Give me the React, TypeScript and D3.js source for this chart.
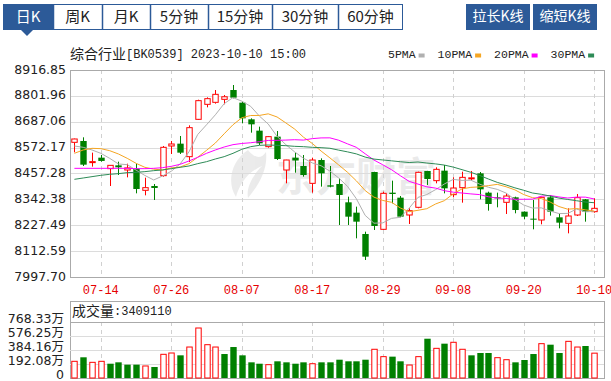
import React from "react";
import * as d3 from "d3";

// 综合行业 BK0539 daily candles, 2023-07-11 .. 2023-10-10
const dates = [
  "07-11", "07-12", "07-13", "07-14", "07-17", "07-18", "07-19", "07-20", "07-21", "07-24",
  "07-25", "07-26", "07-27", "07-28", "07-31", "08-01", "08-02", "08-03", "08-04", "08-07",
  "08-08", "08-09", "08-10", "08-11", "08-14", "08-15", "08-16", "08-17", "08-18", "08-21",
  "08-22", "08-23", "08-24", "08-25", "08-28", "08-29", "08-30", "08-31", "09-01", "09-04",
  "09-05", "09-06", "09-07", "09-08", "09-11", "09-12", "09-13", "09-14", "09-15", "09-18",
  "09-19", "09-20", "09-21", "09-22", "09-25", "09-26", "09-27", "09-28", "10-09", "10-10",
];
const opens = [
  8595.7, 8601.6, 8507.0, 8527.6, 8478.8, 8493.5, 8472.8, 8478.8, 8382.6, 8401.8,
  8447.7, 8579.4, 8589.8, 8532.0, 8697.8, 8764.4, 8773.3, 8786.6, 8828.0, 8771.8,
  8697.8, 8647.5, 8576.5, 8620.9, 8472.8, 8527.6, 8490.6, 8413.6, 8517.2, 8404.8,
  8410.7, 8329.3, 8283.4, 8188.7, 8463.9, 8209.4, 8372.2, 8350.0, 8273.0, 8307.1,
  8468.4, 8425.5, 8469.9, 8363.3, 8394.4, 8434.0, 8458.0, 8372.2, 8351.5, 8329.3,
  8351.5, 8287.8, 8256.7, 8250.8, 8351.5, 8262.7, 8236.0, 8273.0, 8342.6, 8287.8,
];
const highs = [
  8612.0, 8617.9, 8549.8, 8539.4, 8495.0, 8509.8, 8500.9, 8499.5, 8438.8, 8410.7,
  8579.4, 8601.6, 8623.8, 8671.2, 8785.0, 8795.5, 8828.0, 8805.8, 8850.2, 8776.3,
  8702.2, 8665.2, 8623.8, 8646.0, 8518.0, 8549.8, 8539.4, 8527.6, 8524.6, 8490.6,
  8435.8, 8354.4, 8310.1, 8199.0, 8465.0, 8376.6, 8425.5, 8357.4, 8302.7, 8465.4,
  8469.0, 8484.7, 8495.0, 8440.2, 8465.4, 8468.4, 8463.9, 8376.6, 8372.2, 8369.2,
  8354.4, 8289.0, 8339.6, 8354.4, 8361.8, 8277.5, 8302.7, 8366.3, 8344.1, 8347.0,
];
const lows = [
  8551.3, 8490.6, 8487.6, 8509.8, 8401.8, 8450.6, 8440.2, 8369.2, 8360.3, 8339.6,
  8443.2, 8543.9, 8543.9, 8508.3, 8694.8, 8751.1, 8767.4, 8764.4, 8791.0, 8680.0,
  8638.6, 8583.8, 8572.0, 8517.2, 8413.6, 8461.0, 8443.2, 8372.2, 8398.9, 8395.9,
  8228.6, 8228.6, 8169.4, 8073.2, 8206.4, 8206.4, 8324.8, 8262.7, 8233.1, 8302.7,
  8406.3, 8413.6, 8369.2, 8351.5, 8327.8, 8428.4, 8342.6, 8292.3, 8307.1, 8277.5,
  8280.5, 8253.8, 8209.4, 8231.6, 8270.1, 8213.8, 8191.6, 8268.6, 8243.4, 8283.4,
];
const closes = [
  8610.5, 8496.5, 8510.0, 8513.0, 8493.5, 8484.7, 8482.0, 8388.5, 8394.4, 8393.0,
  8573.5, 8588.3, 8549.8, 8660.8, 8780.7, 8789.6, 8808.8, 8798.0, 8794.0, 8702.2,
  8675.6, 8591.2, 8620.9, 8521.7, 8517.2, 8515.0, 8450.6, 8517.2, 8458.0, 8398.9,
  8361.8, 8265.6, 8243.4, 8088.0, 8224.2, 8369.2, 8366.3, 8265.6, 8292.3, 8462.5,
  8432.8, 8475.8, 8391.4, 8392.9, 8440.2, 8438.0, 8387.0, 8321.9, 8347.0, 8357.4,
  8295.2, 8265.6, 8253.8, 8351.5, 8287.8, 8239.0, 8268.6, 8350.0, 8287.8, 8302.7,
];
const ma5 = [
  8579.4, 8573.5, 8561.7, 8546.9, 8524.7, 8499.5, 8496.6, 8472.3, 8448.6, 8428.5,
  8446.3, 8467.5, 8499.8, 8553.1, 8630.6, 8673.8, 8717.9, 8767.6, 8794.2, 8778.5,
  8755.7, 8712.2, 8676.8, 8622.3, 8585.3, 8553.2, 8525.1, 8504.3, 8491.6, 8467.9,
  8437.3, 8400.3, 8345.5, 8271.5, 8236.6, 8238.1, 8258.2, 8262.7, 8303.5, 8351.2,
  8363.9, 8385.8, 8411.0, 8431.1, 8426.6, 8427.7, 8409.9, 8396.0, 8386.8, 8370.3,
  8341.7, 8317.4, 8303.8, 8304.7, 8290.8, 8279.5, 8280.1, 8299.4, 8286.6, 8289.6,
];
const ma10 = [
  8546.9, 8561.7, 8569.0, 8567.6, 8558.7, 8543.9, 8524.6, 8502.5, 8484.7, 8476.6,
  8472.9, 8482.1, 8486.1, 8500.9, 8529.6, 8560.1, 8592.7, 8633.7, 8673.7, 8704.6,
  8714.8, 8715.1, 8722.2, 8708.3, 8681.9, 8654.5, 8618.6, 8590.6, 8557.0, 8526.6,
  8495.3, 8462.7, 8424.9, 8381.6, 8352.3, 8337.7, 8329.3, 8304.1, 8287.5, 8293.9,
  8301.0, 8322.0, 8336.8, 8367.3, 8388.9, 8395.8, 8397.9, 8403.5, 8409.0, 8398.4,
  8384.7, 8363.7, 8349.9, 8345.8, 8330.5, 8310.6, 8298.8, 8301.6, 8295.7, 8290.2,
];
const ma20 = [
  8480.2, 8480.2, 8480.2, 8480.2, 8480.2, 8480.2, 8480.2, 8478.8, 8478.8, 8480.2,
  8483.2, 8489.1, 8498.0, 8512.8, 8529.1, 8546.9, 8561.7, 8575.0, 8585.3, 8590.6,
  8593.8, 8598.6, 8604.1, 8604.6, 8605.7, 8607.3, 8605.7, 8612.1, 8615.3, 8615.6,
  8605.0, 8588.9, 8573.6, 8544.9, 8517.1, 8496.1, 8474.0, 8447.3, 8422.2, 8410.3,
  8398.1, 8392.4, 8380.9, 8374.4, 8370.6, 8366.7, 8363.6, 8353.8, 8348.2, 8346.2,
  8342.8, 8342.8, 8343.4, 8356.5, 8359.7, 8353.2, 8348.3, 8352.5, 8352.3, 8344.3,
];
const ma30 = [
  8431.4, 8437.3, 8443.3, 8449.2, 8453.6, 8456.6, 8461.0, 8462.5, 8465.5, 8469.9,
  8472.9, 8478.8, 8484.7, 8490.6, 8501.0, 8509.8, 8521.7, 8532.0, 8546.9, 8564.6,
  8576.4, 8582.4, 8583.8, 8582.4, 8580.9, 8577.9, 8576.4, 8573.5, 8572.0, 8569.3,
  8561.0, 8553.3, 8544.4, 8530.2, 8521.3, 8517.4, 8513.5, 8509.5, 8506.0, 8508.4,
  8503.7, 8499.9, 8494.6, 8485.7, 8474.4, 8462.6, 8448.6, 8432.7, 8417.8, 8406.3,
  8393.6, 8382.8, 8370.6, 8364.9, 8357.2, 8348.0, 8342.0, 8336.4, 8330.7, 8327.5,
];
// volume in 万
const volumes = [
  229, 284, 215, 229, 196, 215, 183, 183, 165, 151,
  325, 343, 311, 425, 686, 457, 425, 329, 425, 311,
  215, 196, 183, 229, 215, 196, 215, 196, 215, 215,
  251, 229, 229, 251, 394, 293, 293, 229, 178, 293,
  539, 407, 471, 490, 394, 311, 343, 343, 279, 251,
  215, 247, 329, 471, 457, 343, 503, 425, 439, 340.911,
];
const priceTicks = [8916.85, 8801.96, 8687.06, 8572.17, 8457.28, 8342.38, 8227.49, 8112.59, 7997.7];
const volTicks = [768.33, 576.25, 384.16, 192.08, 0];
const xTicks = ["07-14", "07-26", "08-07", "08-17", "08-29", "09-08", "09-20", "10-10"];
const tabs = ["日K", "周K", "月K", "5分钟", "15分钟", "30分钟", "60分钟"];
const maNames = ["5PMA", "10PMA", "20PMA", "30PMA"];

const BLUE = "#2c5a98";
const RED = "#ff0000";
const GREEN = "#008000";
const maColors = ["#b0b0b0", "#f5a623", "#ff00ff", "#2e8b57"];
const CJK = "Noto Sans CJK SC";
const MONO = "Liberation Mono";
const NUM = "DejaVu Sans";

export default function App() {
  const left = 70, right = 604;
  const pTop = 70, pBot = 277;
  const vPanel = 301, vTop = 322, vBot = 378;

  const x = d3.scaleBand<string>().domain(dates).range([left, 598.6]);
  const bw = x.bandwidth();
  const cx = (d: string) => (x(d) as number) + bw / 2;
  const y = d3.scaleLinear().domain([priceTicks[8], priceTicks[0]]).range([pBot, pTop]);
  const yv = d3.scaleLinear().domain([0, volTicks[0]]).range([vBot, vTop]);

  const tabEdges = [3, 53, 102, 150, 208, 272, 338, 403];
  const line = d3
    .line<number>()
    .x((_, i) => cx(dates[i]))
    .y((v) => y(v));
  const mas = [ma5, ma10, ma20, ma30];

  // legend layout
  let lx = 388;
  const legend = maNames.map((n, i) => {
    const tx = lx;
    const sq = tx + n.length * 6.9 + 3;
    lx = sq + 6 + 13;
    return { n, tx, sq, c: maColors[i] };
  });

  const hw = 2.7;

  return (
    <svg
      width={611}
      height={381}
      style={{ position: "absolute", left: 0, top: 0, background: "#fff" }}
    >
      {/* tabs */}
      <rect x={3.5} y={4.5} width={399} height={25} fill="#fff" stroke={BLUE} />
      {tabs.map((t, i) => {
        const x0 = tabEdges[i], x1 = tabEdges[i + 1];
        return (
          <g key={t}>
            {i === 0 && <rect x={x0 + 0.5} y={4.5} width={x1 - x0} height={25} fill={BLUE} />}
            {i > 0 && <line x1={x0 + 0.5} x2={x0 + 0.5} y1={4} y2={30} stroke={BLUE} strokeWidth={1.5} />}
            <text
              x={(x0 + x1) / 2}
              y={17.5}
              textAnchor="middle"
              dominantBaseline="middle"
              fontFamily={CJK}
              fontSize={15}
              fill={i === 0 ? "#fff" : "#222"}
            >
              {t}
            </text>
          </g>
        );
      })}
      <path d="M21,30 L33,30 L27,36 Z" fill={BLUE} />
      {["拉长K线", "缩短K线"].map((t, i) => (
        <g key={t}>
          <rect x={466 + i * 67} y={4} width={64} height={26} fill={BLUE} />
          <text
            x={498 + i * 67}
            y={17.5}
            textAnchor="middle"
            dominantBaseline="middle"
            fontFamily={CJK}
            fontSize={14}
            fill="#fff"
          >
            {t}
          </text>
        </g>
      ))}

      {/* header */}
      <text x={70} y={55} dominantBaseline="middle" fill="#222">
        <tspan fontFamily={CJK} fontSize={14}>综合行业</tspan>
        <tspan fontFamily={MONO} fontSize={12}>[BK0539] 2023-10-10 15:00</tspan>
      </text>
      {legend.map((l) => (
        <g key={l.n}>
          <text x={l.tx} y={55} dominantBaseline="middle" fontFamily={MONO} fontSize={11.5} fill="#222">
            {l.n}
          </text>
          <rect x={l.sq} y={53.5} width={6} height={4} fill={l.c} />
        </g>
      ))}

      {/* watermark */}
      <g opacity={0.08} fill="#000">
        <path d="M248,150 C232,160 226,182 236,197 C240,183 248,172 262,166 C252,176 246,188 248,198 C258,186 268,170 266,152 C262,158 256,160 248,150 Z" />
        <text x={276} y={191} fontFamily={CJK} fontSize={40} fontWeight="bold">东方财富</text>
      </g>

      {/* price grid */}
      {priceTicks.map((v) => (
        <g key={v}>
          <line x1={left} x2={right} y1={Math.round(y(v)) + 0.5} y2={Math.round(y(v)) + 0.5} stroke="#dcdcdc" />
          <text
            x={66}
            y={y(v)}
            textAnchor="end"
            dominantBaseline="middle"
            fontFamily={NUM}
            fontSize={12.5}
            fill="#222"
          >
            {v.toFixed(2)}
          </text>
        </g>
      ))}
      {xTicks.map((d) => (
        <g key={d}>
          <line
            x1={Math.round(cx(d)) + 0.5}
            x2={Math.round(cx(d)) + 0.5}
            y1={pTop}
            y2={pBot}
            stroke="#d0d0d0"
            strokeDasharray="4,4"
          />
          <line
            x1={Math.round(cx(d)) + 0.5}
            x2={Math.round(cx(d)) + 0.5}
            y1={vTop}
            y2={vBot}
            stroke="#d0d0d0"
            strokeDasharray="4,4"
          />
          <text
            x={cx(d)}
            y={291}
            textAnchor="middle"
            dominantBaseline="middle"
            fontFamily={MONO}
            fontSize={12}
            fill="#e60000"
          >
            {d}
          </text>
        </g>
      ))}
      <rect x={left + 0.5} y={pTop + 0.5} width={right - left} height={pBot - pTop} fill="none" stroke="#aaa" />

      {/* candles */}
      {dates.map((d, i) => {
        const o = opens[i], c = closes[i];
        const up = c > o;
        const xc = Math.round(cx(d)) + 0.5;
        const top = y(Math.max(o, c));
        const bot = y(Math.min(o, c));
        const h = Math.max(bot - top, 1);
        if (up) {
          return (
            <g key={d} stroke={RED} fill="#fff">
              <line x1={xc} x2={xc} y1={y(highs[i])} y2={top} />
              <line x1={xc} x2={xc} y1={bot} y2={y(lows[i])} />
              <rect x={xc - hw} y={top} width={hw * 2} height={h} />
            </g>
          );
        }
        return (
          <g key={d}>
            <line x1={xc} x2={xc} y1={y(highs[i])} y2={y(lows[i])} stroke={GREEN} />
            <rect x={xc - hw - 0.5} y={top} width={hw * 2 + 1} height={h} fill={GREEN} />
          </g>
        );
      })}

      {/* moving averages */}
      {mas.map((m, k) => (
        <path key={k} d={line(m) as string} fill="none" stroke={maColors[k]} strokeWidth={1} />
      ))}

      {/* volume panel */}
      <rect x={left + 0.5} y={vPanel + 0.5} width={right - left} height={vBot - vPanel} fill="none" stroke="#aaa" />
      <line x1={left} x2={right} y1={vTop + 0.5} y2={vTop + 0.5} stroke="#aaa" />
      {volTicks.slice(1, 4).map((v) => (
        <line key={v} x1={left} x2={right} y1={Math.round(yv(v)) + 0.5} y2={Math.round(yv(v)) + 0.5} stroke="#dcdcdc" />
      ))}
      {volTicks.map((v) => (
        <text
          key={v}
          x={64}
          y={yv(v) + 1}
          textAnchor="end"
          fontFamily={`${NUM}, ${CJK}`}
          fontSize={12.5}
          fill="#222"
        >
          {v === 0 ? "0" : v.toFixed(2) + "万"}
        </text>
      ))}
      <text x={72} y={312} dominantBaseline="middle" fill="#222">
        <tspan fontFamily={CJK} fontSize={14}>成交量</tspan>
        <tspan fontFamily={MONO} fontSize={12}>:{Math.round(volumes[volumes.length - 1] * 10000)}</tspan>
      </text>
      {dates.map((d, i) => {
        const up = i === 0 ? closes[i] > opens[i] : closes[i] > closes[i - 1];
        const xc = Math.round(cx(d)) + 0.5;
        const t = yv(volumes[i]);
        return up ? (
          <rect key={d} x={xc - hw} y={t} width={hw * 2} height={vBot - t} fill="#fff" stroke={RED} />
        ) : (
          <rect key={d} x={xc - hw - 0.5} y={t} width={hw * 2 + 1} height={vBot - t} fill={GREEN} />
        );
      })}
    </svg>
  );
}
